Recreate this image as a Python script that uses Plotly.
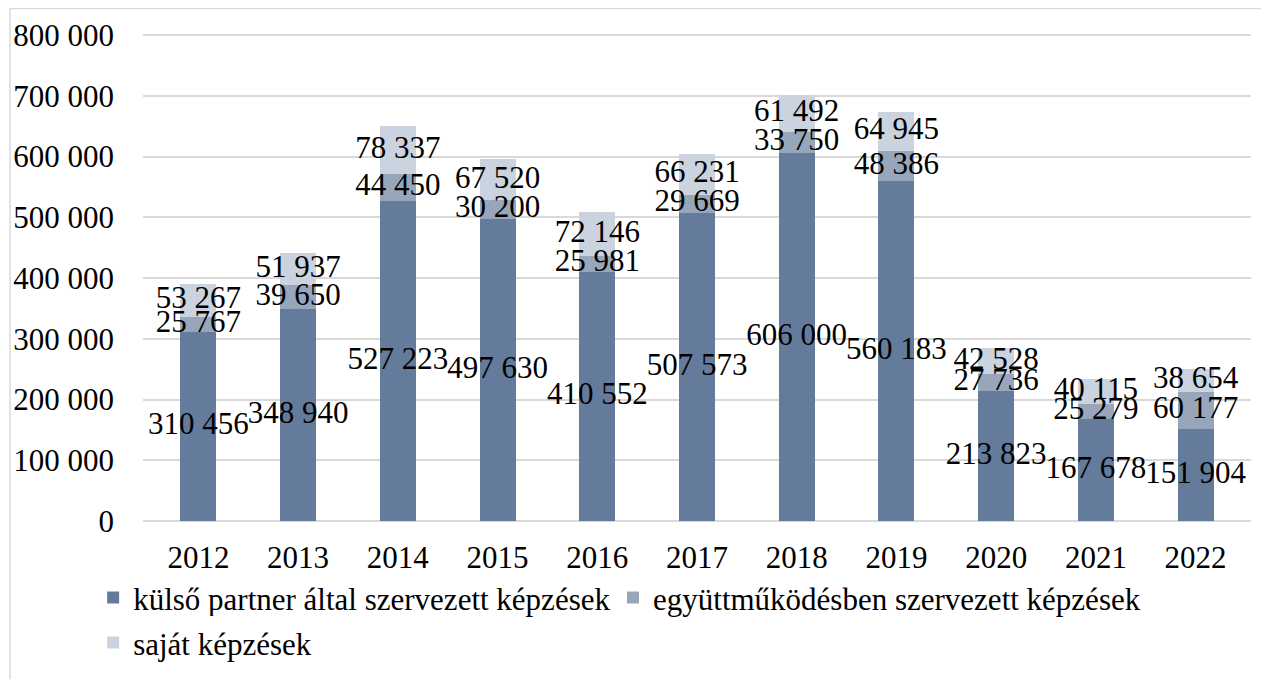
import plotly.graph_objects as go

years = ["2012", "2013", "2014", "2015", "2016", "2017", "2018", "2019", "2020", "2021", "2022"]
kulso = [310456, 348940, 527223, 497630, 410552, 507573, 606000, 560183, 213823, 167678, 151904]
egyutt = [25767, 39650, 44450, 30200, 25981, 29669, 33750, 48386, 27736, 25279, 60177]
sajat = [53267, 51937, 78337, 67520, 72146, 66231, 61492, 64945, 42528, 40115, 38654]

names = ["külső partner által szervezett képzések",
         "együttműködésben szervezett képzések",
         "saját képzések"]
colors = ["#647B9B", "#98A6BC", "#CBD3DF"]
legend_ids = ["legend", "legend2", "legend3"]
FONT = "Liberation Serif, DejaVu Serif, serif"
FS = 31


def fmt(v):
    return f"{v:,}".replace(",", " ")


fig = go.Figure()
series = [kulso, egyutt, sajat]
for name, vals, col, lg in zip(names, series, colors, legend_ids):
    fig.add_trace(go.Bar(x=years, y=vals, name=name, marker=dict(color=col, line=dict(width=0)),
                         hoverinfo="skip", legend=lg))

# data labels centered on each segment
base = [0] * len(years)
for vals in series:
    centers = [b + v / 2 for b, v in zip(base, vals)]
    fig.add_trace(go.Scatter(x=years, y=centers, mode="text", text=[fmt(v) for v in vals],
                             textposition="middle center", showlegend=False, hoverinfo="skip",
                             textfont=dict(family=FONT, size=FS, color="black")))
    base = [b + v for b, v in zip(base, vals)]

lfont = dict(family=FONT, size=FS, color="black")
fig.update_layout(
    width=1261, height=671,
    barmode="stack", bargap=0.64,
    separators=", ",
    paper_bgcolor="white", plot_bgcolor="white",
    margin=dict(l=135, r=18, t=24, b=158, autoexpand=False),
    font=dict(family=FONT, size=FS, color="black"),
    showlegend=True,
    legend=dict(orientation="h", x=-0.045, xanchor="left", y=-0.102, yanchor="top", font=lfont),
    legend2=dict(orientation="h", x=0.4242, xanchor="left", y=-0.102, yanchor="top", font=lfont),
    legend3=dict(orientation="h", x=-0.045, xanchor="left", y=-0.194, yanchor="top", font=lfont),
    xaxis=dict(type="category", showgrid=False, showline=False, ticks="",
               ticklabelstandoff=15, tickfont=dict(family=FONT, size=FS, color="black")),
    yaxis=dict(range=[0, 805000], tickvals=[0, 100000, 200000, 300000, 400000, 500000, 600000, 700000, 800000],
               tickformat=",d", showgrid=True, gridcolor="#d9d9d9", gridwidth=1.5,
               zeroline=True, zerolinecolor="#d9d9d9", zerolinewidth=1.5,
               showline=False, ticks="", ticklabelstandoff=28,
               tickfont=dict(family=FONT, size=FS, color="black")),
    shapes=[dict(type="rect", xref="paper", yref="paper", x0=-0.12, x1=1.2, y0=-0.6, y1=1.048,
                 line=dict(color="#d9d9d9", width=1.5), fillcolor="rgba(0,0,0,0)", layer="below")],
)

fig.write_html("out.html")
